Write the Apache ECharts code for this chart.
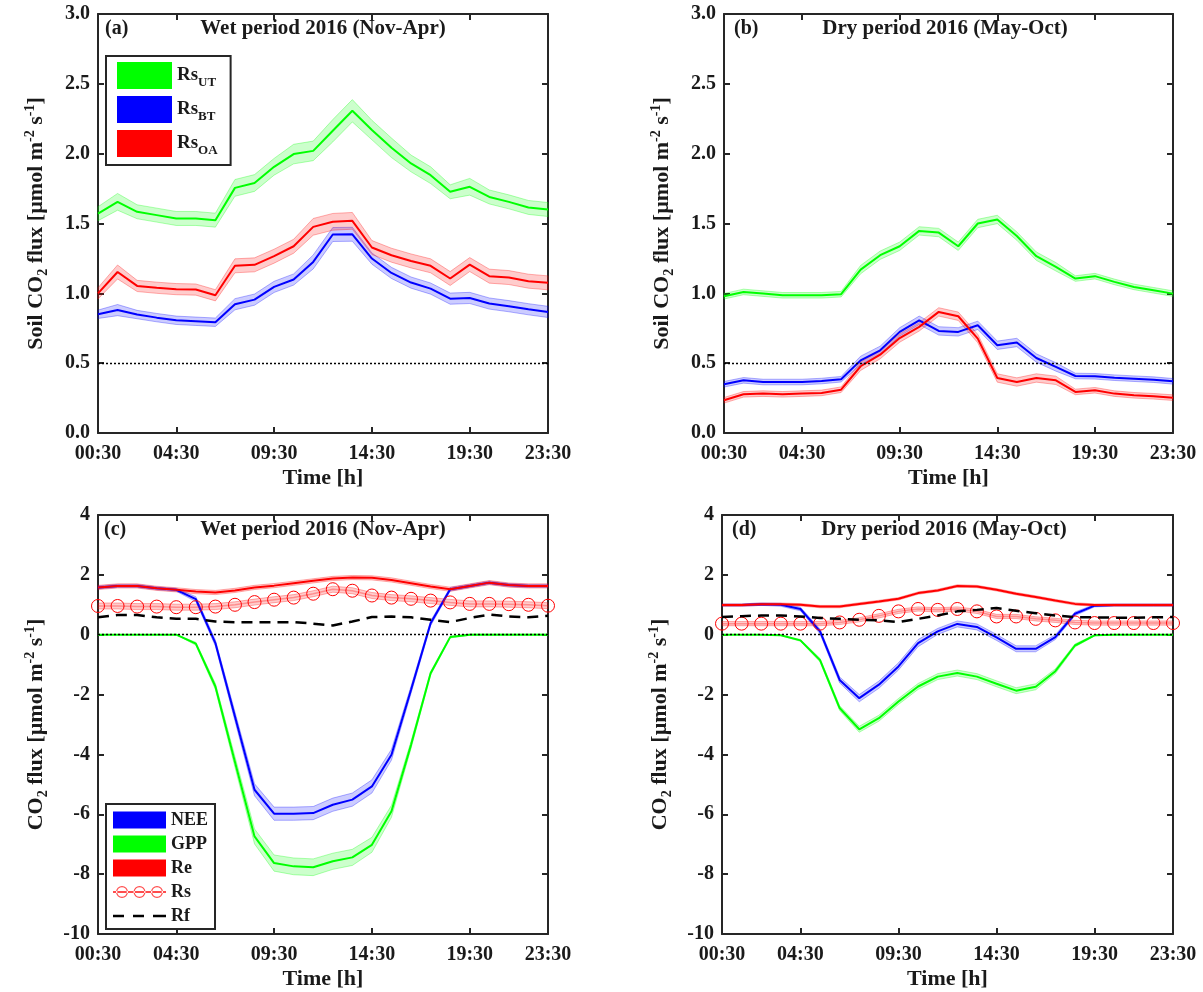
<!DOCTYPE html>
<html>
<head>
<meta charset="utf-8">
<title>Soil CO2 flux and ecosystem fluxes, 2016</title>
<script src="https://cdn.jsdelivr.net/npm/echarts@6/dist/echarts.min.js"></script>
<style>
    body { margin: 0; background: #fff; }
    #chart { width: 1203px; height: 992px; }
</style>
</head>
<body>
<div id="chart"></div>
<script>
// time axis (hourly means)
var hours = ['00:30', '01:30', '02:30', '03:30', '04:30', '05:30', '06:30', '07:30',
    '08:30', '09:30', '10:30', '11:30', '12:30', '13:30', '14:30', '15:30',
    '16:30', '17:30', '18:30', '19:30', '20:30', '21:30', '22:30', '23:30'];
var tickHours = ['00:30', '04:30', '09:30', '14:30', '19:30', '23:30'];

// (a) soil respiration, wet period
var wetUT = [1.57, 1.655, 1.584, 1.56, 1.536, 1.536, 1.524, 1.755, 1.79, 1.906, 1.997, 2.02,
    2.164, 2.307, 2.169, 2.042, 1.93, 1.846, 1.727, 1.763, 1.69, 1.655, 1.615, 1.60];
var wetBT = [0.85, 0.88, 0.848, 0.826, 0.807, 0.80, 0.793, 0.922, 0.955, 1.046, 1.099, 1.225,
    1.421, 1.423, 1.249, 1.146, 1.077, 1.034, 0.962, 0.967, 0.927, 0.908, 0.886, 0.867];
var wetOA = [1.00, 1.153, 1.053, 1.04, 1.03, 1.027, 0.986, 1.197, 1.204, 1.266, 1.337, 1.476,
    1.512, 1.519, 1.328, 1.273, 1.232, 1.197, 1.106, 1.206, 1.123, 1.113, 1.087, 1.075];
var wetUTErr = [0.05, 0.06, 0.05, 0.05, 0.05, 0.05, 0.05, 0.06, 0.06, 0.06, 0.07, 0.07,
    0.08, 0.08, 0.07, 0.07, 0.06, 0.06, 0.05, 0.06, 0.05, 0.05, 0.05, 0.05];
var wetBTErr = [0.03, 0.04, 0.03, 0.03, 0.03, 0.03, 0.03, 0.04, 0.04, 0.04, 0.04, 0.05,
    0.05, 0.05, 0.04, 0.04, 0.04, 0.04, 0.04, 0.04, 0.04, 0.04, 0.04, 0.04];
var wetOAErr = [0.04, 0.05, 0.04, 0.04, 0.04, 0.04, 0.04, 0.05, 0.05, 0.05, 0.05, 0.06,
    0.06, 0.06, 0.05, 0.05, 0.05, 0.05, 0.05, 0.05, 0.05, 0.05, 0.05, 0.05];

// (b) soil respiration, dry period
var dryUT = [0.979, 1.01, 0.998, 0.986, 0.986, 0.986, 0.994, 1.17, 1.273, 1.337, 1.447, 1.435,
    1.337, 1.50, 1.529, 1.41, 1.266, 1.19, 1.106, 1.123, 1.082, 1.046, 1.022, 0.998];
var dryBT = [0.349, 0.377, 0.365, 0.365, 0.365, 0.372, 0.385, 0.52, 0.592, 0.724, 0.807, 0.731,
    0.724, 0.771, 0.628, 0.648, 0.537, 0.473, 0.408, 0.406, 0.396, 0.389, 0.382, 0.37];
var dryOA = [0.234, 0.277, 0.282, 0.277, 0.282, 0.287, 0.31, 0.478, 0.561, 0.68, 0.76, 0.867,
    0.836, 0.676, 0.394, 0.365, 0.394, 0.377, 0.294, 0.306, 0.282, 0.27, 0.263, 0.253];
var dryUTErr = [0.02, 0.02, 0.02, 0.02, 0.02, 0.02, 0.02, 0.03, 0.03, 0.03, 0.03, 0.03,
    0.03, 0.03, 0.03, 0.03, 0.03, 0.03, 0.02, 0.02, 0.02, 0.02, 0.02, 0.02];
var dryBTErr = [0.02, 0.02, 0.02, 0.02, 0.02, 0.02, 0.02, 0.03, 0.03, 0.03, 0.03, 0.03,
    0.03, 0.03, 0.03, 0.03, 0.03, 0.03, 0.02, 0.02, 0.02, 0.02, 0.02, 0.02];
var dryOAErr = [0.02, 0.02, 0.02, 0.02, 0.02, 0.02, 0.02, 0.03, 0.03, 0.03, 0.03, 0.03,
    0.03, 0.03, 0.03, 0.03, 0.03, 0.03, 0.02, 0.02, 0.02, 0.02, 0.02, 0.02];

// (c) ecosystem fluxes, wet period
var wetNEE = [1.58, 1.63, 1.63, 1.55, 1.50, 1.19, -0.28, -2.73, -5.18, -5.98, -5.98, -5.96,
    -5.68, -5.51, -5.07, -4.01, -1.84, 0.38, 1.52, 1.63, 1.74, 1.66, 1.63, 1.63];
var wetGPP = [0, 0, 0, 0, 0, -0.3, -1.73, -4.25, -6.74, -7.63, -7.74, -7.77,
    -7.57, -7.44, -7.02, -5.9, -3.68, -1.29, -0.08, 0, 0, 0, 0, 0];
var wetRe = [1.58, 1.63, 1.63, 1.55, 1.50, 1.44, 1.41, 1.48, 1.58, 1.64, 1.72, 1.80,
    1.88, 1.91, 1.90, 1.83, 1.72, 1.61, 1.52, 1.63, 1.74, 1.66, 1.63, 1.63];
var wetRs = [0.96, 0.96, 0.94, 0.94, 0.92, 0.92, 0.94, 1.00, 1.09, 1.17, 1.24, 1.37,
    1.52, 1.47, 1.31, 1.24, 1.20, 1.14, 1.08, 1.03, 1.03, 1.02, 1.00, 0.97];
var wetRf = [0.58, 0.66, 0.66, 0.58, 0.53, 0.53, 0.44, 0.42, 0.42, 0.42, 0.42, 0.37,
    0.31, 0.44, 0.59, 0.61, 0.58, 0.50, 0.42, 0.56, 0.67, 0.61, 0.58, 0.63];
var wetNEEErr = [0.05, 0.05, 0.05, 0.05, 0.05, 0.08, 0.1, 0.15, 0.2, 0.22, 0.22, 0.22,
    0.22, 0.22, 0.22, 0.18, 0.12, 0.08, 0.06, 0.05, 0.05, 0.05, 0.05, 0.05];
var wetGPPErr = [0, 0, 0, 0, 0, 0.05, 0.1, 0.18, 0.25, 0.27, 0.28, 0.28,
    0.27, 0.27, 0.25, 0.2, 0.12, 0.06, 0.03, 0.02, 0.02, 0.02, 0.02, 0.02];
var wetReErr = [0.07, 0.07, 0.07, 0.07, 0.07, 0.07, 0.07, 0.07, 0.07, 0.07, 0.07, 0.07,
    0.07, 0.07, 0.07, 0.07, 0.07, 0.07, 0.07, 0.07, 0.07, 0.07, 0.07, 0.07];
var wetRsErr = [0.1, 0.1, 0.1, 0.1, 0.1, 0.1, 0.1, 0.1, 0.1, 0.1, 0.1, 0.1,
    0.1, 0.1, 0.1, 0.1, 0.1, 0.1, 0.1, 0.1, 0.1, 0.1, 0.1, 0.1];

// (d) ecosystem fluxes, dry period
var dryNEE = [0.99, 0.99, 1.02, 1.0, 0.86, 0.11, -1.51, -2.12, -1.67, -1.06, -0.28, 0.11,
    0.36, 0.26, -0.09, -0.47, -0.47, -0.08, 0.70, 0.97, 0.99, 0.99, 0.99, 0.99];
var dryGPP = [0, 0, 0, -0.02, -0.19, -0.85, -2.45, -3.16, -2.79, -2.23, -1.73, -1.4,
    -1.28, -1.4, -1.64, -1.87, -1.74, -1.22, -0.36, -0.02, 0, 0, 0, 0];
var dryRe = [0.99, 0.99, 1.02, 1.02, 1.0, 0.94, 0.94, 1.03, 1.11, 1.2, 1.39, 1.48,
    1.63, 1.61, 1.5, 1.37, 1.26, 1.14, 1.03, 0.99, 0.99, 0.99, 0.99, 0.99];
var dryRs = [0.37, 0.37, 0.37, 0.37, 0.37, 0.37, 0.41, 0.50, 0.63, 0.78, 0.86, 0.83,
    0.86, 0.78, 0.61, 0.61, 0.53, 0.48, 0.41, 0.39, 0.39, 0.39, 0.39, 0.39];
var dryRf = [0.59, 0.62, 0.64, 0.64, 0.61, 0.56, 0.53, 0.50, 0.48, 0.42, 0.53, 0.64,
    0.78, 0.83, 0.89, 0.80, 0.72, 0.64, 0.59, 0.58, 0.57, 0.57, 0.58, 0.59];
var dryNEEErr = [0.04, 0.04, 0.04, 0.05, 0.06, 0.08, 0.1, 0.12, 0.12, 0.12, 0.12, 0.1,
    0.1, 0.1, 0.1, 0.1, 0.1, 0.08, 0.06, 0.04, 0.04, 0.04, 0.04, 0.04];
var dryGPPErr = [0, 0, 0, 0.01, 0.03, 0.06, 0.08, 0.1, 0.1, 0.1, 0.1, 0.1,
    0.1, 0.1, 0.1, 0.1, 0.1, 0.08, 0.05, 0.02, 0, 0, 0, 0];
var dryReErr = [0.04, 0.04, 0.04, 0.04, 0.04, 0.04, 0.04, 0.04, 0.04, 0.04, 0.04, 0.04,
    0.04, 0.04, 0.04, 0.04, 0.04, 0.04, 0.04, 0.04, 0.04, 0.04, 0.04, 0.04];
var dryRsErr = [0.07, 0.07, 0.07, 0.07, 0.07, 0.07, 0.07, 0.07, 0.07, 0.07, 0.07, 0.07,
    0.07, 0.07, 0.07, 0.07, 0.07, 0.07, 0.07, 0.07, 0.07, 0.07, 0.07, 0.07];

var panelTags = ['(a)', '(b)', '(c)', '(d)'];
var panelTitles = ['Wet period 2016 (Nov-Apr)', 'Dry period 2016 (May-Oct)',
    'Wet period 2016 (Nov-Apr)', 'Dry period 2016 (May-Oct)'];

// ---- styling / layout ----
var ink = '#1a1a1a';
var frame = '#262626';
var serif = '"Liberation Serif", "Times New Roman", serif';
var GREEN = '#00ff00', BLUE = '#0000ff', RED = '#ff0000';

var grids = [
    { left: 98, top: 14, width: 450, height: 419 },
    { left: 724, top: 14, width: 449, height: 419 },
    { left: 98, top: 515, width: 450, height: 419 },
    { left: 722, top: 515, width: 451, height: 419 }
];

var tickIdx = tickHours.map(function (h) { return hours.indexOf(h); });
function isTick(i) { return tickIdx.indexOf(i) >= 0; }

var nameRich = {
    m: { fontSize: 22, fontWeight: 'bold', fontFamily: serif, color: ink },
    s: { fontSize: 14, fontWeight: 'bold', fontFamily: serif, color: ink, padding: [14, 0, 0, 0] },
    p: { fontSize: 14, fontWeight: 'bold', fontFamily: serif, color: ink, padding: [0, 0, 12, 0] }
};
var labelFont = { fontSize: 20, fontWeight: 'bold', fontFamily: serif, color: ink };

function xAxes(g) {
    var line = { onZero: false, lineStyle: { color: frame, width: 2 } };
    var tick = { inside: true, length: 6, interval: function (i) { return isTick(i); },
        lineStyle: { color: frame, width: 2 } };
    return [{
        gridIndex: g, type: 'category', data: hours, boundaryGap: false, position: 'bottom',
        axisLine: line, axisTick: tick, splitLine: { show: false },
        axisLabel: Object.assign({ interval: function (i) { return isTick(i); }, margin: 11 }, labelFont),
        name: 'Time [h]', nameLocation: 'middle', nameGap: 34,
        nameTextStyle: { fontSize: 22, fontWeight: 'bold', fontFamily: serif, color: ink }
    }, {
        gridIndex: g, type: 'category', data: hours, boundaryGap: false, position: 'top',
        axisLine: line, axisTick: tick, axisLabel: { show: false }, splitLine: { show: false }
    }];
}

function yAxes(g, min, max, step, digits, name, gap) {
    var line = { show: true, onZero: false, lineStyle: { color: frame, width: 2 } };
    var tick = { show: true, inside: true, length: 6, lineStyle: { color: frame, width: 2 } };
    return [{
        gridIndex: g, type: 'value', min: min, max: max, interval: step, position: 'left',
        axisLine: line, axisTick: tick, splitLine: { show: false },
        axisLabel: Object.assign({ margin: 8, formatter: function (v) { return v.toFixed(digits); } }, labelFont),
        name: name, nameLocation: 'middle', nameRotate: 90, nameGap: gap,
        nameTextStyle: { rich: nameRich }
    }, {
        gridIndex: g, type: 'value', min: min, max: max, interval: step, position: 'right',
        axisLine: line, axisTick: tick, axisLabel: { show: false }, splitLine: { show: false }
    }];
}

function rgba(hex, a) {
    var n = parseInt(hex.slice(1), 16);
    return 'rgba(' + (n >> 16) + ',' + ((n >> 8) & 255) + ',' + (n & 255) + ',' + a + ')';
}

// shaded uncertainty band drawn as one polygon through the axis scales
function band(g, mean, err, color) {
    return {
        type: 'custom', xAxisIndex: g * 2, yAxisIndex: g * 2, silent: true, z: 1,
        data: mean.map(function (v, i) { return [i, v - err[i], v + err[i]]; }),
        encode: { x: 0, y: [1, 2] },
        renderItem: function (params, api) {
            if (params.dataIndex !== 0) return null;
            var up = [], lo = [];
            for (var i = 0; i < mean.length; i++) {
                up.push(api.coord([i, mean[i] + err[i]]));
                lo.unshift(api.coord([i, mean[i] - err[i]]));
            }
            return {
                type: 'polygon', shape: { points: up.concat(lo) },
                style: { fill: rgba(color, 0.2), stroke: rgba(color, 0.3), lineWidth: 1 }
            };
        }
    };
}

function line(g, name, data, color, extra) {
    return Object.assign({
        type: 'line', name: name, xAxisIndex: g * 2, yAxisIndex: g * 2, data: data,
        symbol: 'none', z: 3, lineStyle: { color: color, width: 2 }, itemStyle: { color: color }
    }, extra || {});
}

function refLine(v) {
    return {
        silent: true, symbol: 'none', label: { show: false },
        lineStyle: { color: '#000', type: [2, 2], width: 1.4 },
        data: [{ yAxis: v }]
    };
}

function rsSeries(g, data) {
    return line(g, 'Rs', data, rgba(RED, 0.35), {
        symbol: 'circle', symbolSize: 13, showSymbol: true, showAllSymbol: true, z: 4,
        lineStyle: { color: rgba(RED, 0.3), width: 1.5 },
        itemStyle: { color: 'rgba(255,255,255,0)', borderColor: RED, borderWidth: 1 }
    });
}

function rfSeries(g, data) {
    return line(g, 'Rf', data, '#000', { z: 5, lineStyle: { color: '#000', width: 2.5, type: [11, 7] } });
}

var soilName = '{m|Soil CO}{s|2}{m| flux [µmol m}{p|-2}{m| s}{p|-1}{m|]}';
var fluxName = '{m|CO}{s|2}{m| flux [µmol m}{p|-2}{m| s}{p|-1}{m|]}';

var xAxis = [].concat(xAxes(0), xAxes(1), xAxes(2), xAxes(3));
var yAxis = [].concat(
    yAxes(0, 0, 3, 0.5, 1, soilName, 48),
    yAxes(1, 0, 3, 0.5, 1, soilName, 48),
    yAxes(2, -10, 4, 2, 0, fluxName, 48),
    yAxes(3, -10, 4, 2, 0, fluxName, 48)
);

var series = [
    band(0, wetUT, wetUTErr, GREEN), band(0, wetBT, wetBTErr, BLUE), band(0, wetOA, wetOAErr, RED),
    line(0, 'Rs_UT', wetUT, GREEN, { markLine: refLine(0.5) }),
    line(0, 'Rs_BT', wetBT, BLUE), line(0, 'Rs_OA', wetOA, RED),

    band(1, dryUT, dryUTErr, GREEN), band(1, dryBT, dryBTErr, BLUE), band(1, dryOA, dryOAErr, RED),
    line(1, 'Rs_UT', dryUT, GREEN, { markLine: refLine(0.5) }),
    line(1, 'Rs_BT', dryBT, BLUE), line(1, 'Rs_OA', dryOA, RED),

    band(2, wetNEE, wetNEEErr, BLUE), band(2, wetGPP, wetGPPErr, GREEN),
    band(2, wetRe, wetReErr, RED), band(2, wetRs, wetRsErr, RED),
    line(2, 'NEE', wetNEE, BLUE, { markLine: refLine(0) }),
    line(2, 'GPP', wetGPP, GREEN), line(2, 'Re', wetRe, RED),
    rsSeries(2, wetRs), rfSeries(2, wetRf),

    band(3, dryNEE, dryNEEErr, BLUE), band(3, dryGPP, dryGPPErr, GREEN),
    band(3, dryRe, dryReErr, RED), band(3, dryRs, dryRsErr, RED),
    line(3, 'NEE', dryNEE, BLUE, { markLine: refLine(0) }),
    line(3, 'GPP', dryGPP, GREEN), line(3, 'Re', dryRe, RED),
    rsSeries(3, dryRs), rfSeries(3, dryRf)
];

// legend icons, drawn in a 53 x 17 box (the leading moves pin the box size)
var rsIcon = 'path://M0,0 M53,17 M0,7.5 L53,7.5 L53,9.5 L0,9.5 Z' +
    ' M3,8.5 A6,6 0 1,0 15,8.5 A6,6 0 1,0 3,8.5 Z M4.2,8.5 A4.8,4.8 0 1,1 13.8,8.5 A4.8,4.8 0 1,1 4.2,8.5 Z' +
    ' M20.5,8.5 A6,6 0 1,0 32.5,8.5 A6,6 0 1,0 20.5,8.5 Z M21.7,8.5 A4.8,4.8 0 1,1 31.3,8.5 A4.8,4.8 0 1,1 21.7,8.5 Z' +
    ' M38,8.5 A6,6 0 1,0 50,8.5 A6,6 0 1,0 38,8.5 Z M39.2,8.5 A4.8,4.8 0 1,1 48.8,8.5 A4.8,4.8 0 1,1 39.2,8.5 Z';
var rfIcon = 'path://M0,0 M53,17 M0,7.2 L11,7.2 L11,9.8 L0,9.8 Z M20,7.2 L31,7.2 L31,9.8 L20,9.8 Z' +
    ' M40,7.2 L53,7.2 L53,9.8 L40,9.8 Z';

var legend = [{
    left: 106, top: 56, orient: 'vertical', selectedMode: false,
    itemWidth: 55, itemHeight: 27, itemGap: 7, padding: [6, 13, 8, 11],
    borderColor: frame, borderWidth: 2, backgroundColor: '#fff',
    data: [
        { name: 'Rs_UT', icon: 'rect', itemStyle: { color: GREEN } },
        { name: 'Rs_BT', icon: 'rect', itemStyle: { color: BLUE } },
        { name: 'Rs_OA', icon: 'rect', itemStyle: { color: RED } }
    ],
    formatter: function (name) {
        var p = name.split('_');
        return '{m|' + p[0] + '}{s|' + p[1] + '}';
    },
    textStyle: {
        rich: {
            m: { fontSize: 19, fontWeight: 'bold', fontFamily: serif, color: ink },
            s: { fontSize: 13, fontWeight: 'bold', fontFamily: serif, color: ink, padding: [14, 0, 0, 0] }
        }
    }
}, {
    left: 106, top: 804, orient: 'vertical', selectedMode: false,
    itemWidth: 53, itemHeight: 17, itemGap: 6, padding: [7, 7, 4, 7],
    borderColor: frame, borderWidth: 2, backgroundColor: '#fff',
    data: [
        { name: 'NEE', icon: 'rect', itemStyle: { color: BLUE } },
        { name: 'GPP', icon: 'rect', itemStyle: { color: GREEN } },
        { name: 'Re', icon: 'rect', itemStyle: { color: RED } },
        { name: 'Rs', icon: rsIcon, itemStyle: { color: '#ff4d4d', borderWidth: 0 } },
        { name: 'Rf', icon: rfIcon, itemStyle: { color: '#000', borderWidth: 0 } }
    ],
    textStyle: { fontSize: 18, fontWeight: 'bold', fontFamily: serif, color: ink, lineHeight: 17 }
}];

var tagPos = [[105, 29], [734, 29], [104, 530], [732, 530]];
var titlePos = [[323, 29], [945, 29], [323, 530], [944, 530]];
var graphic = [];
panelTags.forEach(function (t, i) {
    graphic.push({
        type: 'text', x: tagPos[i][0], y: tagPos[i][1], z: 20,
        style: { text: t, fontSize: 20, fontWeight: 'bold', fontFamily: serif, fill: ink,
            align: 'left', textAlign: 'left', verticalAlign: 'middle', textVerticalAlign: 'middle' }
    });
    graphic.push({
        type: 'text', x: titlePos[i][0], y: titlePos[i][1], z: 20,
        style: { text: panelTitles[i], fontSize: 21, fontWeight: 'bold', fontFamily: serif, fill: ink,
            align: 'center', textAlign: 'center', verticalAlign: 'middle', textVerticalAlign: 'middle' }
    });
});

var chart = echarts.init(document.getElementById('chart'));
chart.setOption({
    animation: false,
    backgroundColor: '#fff',
    textStyle: { fontFamily: serif },
    grid: grids,
    xAxis: xAxis,
    yAxis: yAxis,
    legend: legend,
    graphic: graphic,
    series: series
});
</script>
</body>
</html>
